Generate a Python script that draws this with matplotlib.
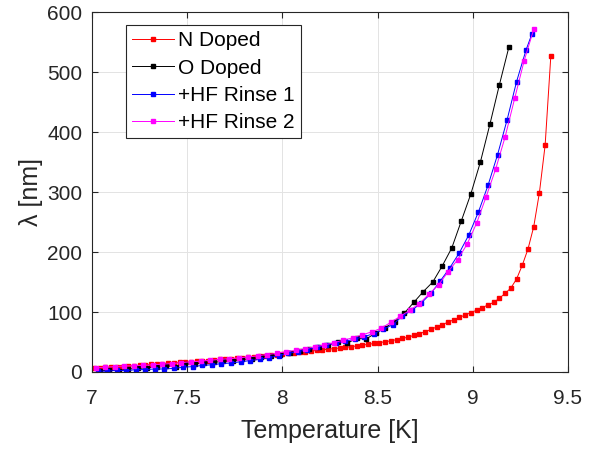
import matplotlib
matplotlib.use("Agg")
import matplotlib.pyplot as plt

plt.rcParams['font.family'] = ['Liberation Sans', 'DejaVu Sans']

# N Doped
t_n = [7.01, 7.04, 7.07, 7.10, 7.13, 7.16, 7.19, 7.22, 7.25, 7.28, 7.31, 7.34, 7.37, 7.40,
       7.43, 7.46, 7.49, 7.52, 7.55, 7.58, 7.61, 7.64, 7.67, 7.70, 7.73, 7.76, 7.79, 7.82,
       7.85, 7.88, 7.91, 7.94, 7.97, 8.00, 8.03, 8.06, 8.09, 8.12, 8.15, 8.18, 8.21, 8.24,
       8.27, 8.30, 8.33, 8.36, 8.39, 8.42, 8.45, 8.48, 8.51, 8.54, 8.57, 8.60, 8.63, 8.66,
       8.69, 8.72, 8.75, 8.78, 8.81, 8.84, 8.87, 8.90, 8.93, 8.96, 8.99, 9.02, 9.05, 9.08,
       9.11, 9.14, 9.17, 9.20, 9.23, 9.26, 9.29, 9.32, 9.35, 9.38, 9.41]
lam_n = [6, 7, 7.5, 8, 8.5, 9, 10, 10.5, 11, 12, 12.5, 13, 14, 14.5,
         15, 16, 16.5, 17, 18, 18.5, 19, 20, 21, 21.5, 22, 23, 24, 25,
         25.5, 26, 27, 28, 29, 30, 31, 32, 33, 34, 35, 36, 37, 38,
         39, 40, 41, 42, 43.5, 45, 46, 47.5, 49, 50.5, 52, 54, 56, 58,
         61, 64, 67, 71, 75, 79, 83, 87, 91, 95, 99, 103, 107, 112,
         116, 123, 131, 140, 155, 178, 205, 242, 299, 378, 527]

# O Doped
t_o = [7.04, 7.09, 7.14, 7.19, 7.24, 7.29, 7.34, 7.39, 7.44, 7.49, 7.54, 7.59, 7.64, 7.69,
       7.74, 7.79, 7.84, 7.89, 7.94, 7.99, 8.04, 8.09, 8.14, 8.19, 8.24, 8.29, 8.34, 8.39,
       8.44, 8.49, 8.54, 8.59, 8.64, 8.69, 8.74, 8.79, 8.84, 8.89, 8.94, 8.99, 9.04, 9.09,
       9.14, 9.19]
lam_o = [2, 3, 2, 5, 6, 7, 8, 10, 9, 13, 14, 15, 16, 18,
         19, 21, 22, 25, 27, 29, 32, 35, 38, 41, 45, 50, 48, 56,
         55, 65, 74, 84, 98, 116, 134, 150, 177, 207, 252, 297, 350, 413,
         479, 542]

# +HF Rinse 1
t_h1 = [7.03, 7.08, 7.13, 7.18, 7.23, 7.28, 7.33, 7.38, 7.43, 7.48, 7.53, 7.58, 7.63, 7.68,
        7.73, 7.78, 7.83, 7.88, 7.93, 7.98, 8.03, 8.08, 8.13, 8.18, 8.23, 8.28, 8.33, 8.38,
        8.43, 8.48, 8.53, 8.58, 8.63, 8.68, 8.73, 8.78, 8.83, 8.88, 8.93, 8.98, 9.03, 9.08,
        9.13, 9.18, 9.23, 9.28, 9.31]
lam_h1 = [2, 1, 3, 2, 4, 4, 5, 5, 6, 8, 9, 11, 12, 14,
          15, 17, 19, 21, 24, 27, 31, 34, 37, 41, 45, 48, 51, 55,
          59, 64, 71, 79, 93, 103, 115, 131, 152, 174, 199, 229, 267, 311,
          362, 420, 484, 537, 563]

# +HF Rinse 2
t_h2 = [7.02, 7.07, 7.12, 7.17, 7.22, 7.27, 7.32, 7.37, 7.42, 7.47, 7.52, 7.57, 7.62, 7.67,
        7.72, 7.77, 7.82, 7.87, 7.92, 7.97, 8.02, 8.07, 8.12, 8.17, 8.22, 8.27, 8.32, 8.37,
        8.42, 8.47, 8.52, 8.57, 8.62, 8.67, 8.72, 8.77, 8.82, 8.87, 8.92, 8.97, 9.02, 9.07,
        9.12, 9.17, 9.22, 9.27, 9.32]
lam_h2 = [7, 8, 9, 10, 10.5, 11, 12, 13, 14, 15.5, 17, 18, 19.5, 21,
          22, 23.5, 25, 27, 29, 31, 34, 36, 39, 42, 45, 49, 53, 57,
          62, 67, 73, 83, 93, 103, 114, 130, 145, 167, 187, 213, 248, 292,
          338, 392, 456, 519, 571]

fig = plt.figure(figsize=(5.99, 4.49), dpi=100)
ax = fig.add_axes([0.1536, 0.1715, 0.7946, 0.8017])

ax.plot(t_n, lam_n, '-s', color='#ff0000', lw=0.7, ms=2.4, label='N Doped')
ax.plot(t_o, lam_o, '-s', color='#000000', lw=0.7, ms=2.4, label='O Doped')
ax.plot(t_h1, lam_h1, '-s', color='#0000ff', lw=0.7, ms=2.4, label='+HF Rinse 1')
ax.plot(t_h2, lam_h2, '-s', color='#ff00ff', lw=0.7, ms=2.4, label='+HF Rinse 2')

ax.set_xlim(7, 9.5)
ax.set_ylim(0, 600)
ax.set_xticks([7, 7.5, 8, 8.5, 9, 9.5])
ax.set_xticklabels(['7', '7.5', '8', '8.5', '9', '9.5'])
ax.set_yticks([0, 100, 200, 300, 400, 500, 600])
ax.grid(True, color='#e3e3e3', lw=0.7)
ax.set_axisbelow(True)
for s in ax.spines.values():
    s.set_color('#262626')
    s.set_linewidth(0.8)
ax.tick_params(direction='in', top=True, right=True, length=4, width=0.8,
               labelsize=15, colors='#262626')
ax.tick_params(axis='x', pad=12)
ax.tick_params(axis='y', pad=7)
ax.set_xlabel('Temperature [K]', fontsize=18, color='#262626', labelpad=8)
ax.set_ylabel('λ [nm]', fontsize=18, color='#262626', labelpad=3)

leg = ax.legend(loc='upper left', bbox_to_anchor=(0.0714, 0.964), fontsize=15,
                fancybox=False, framealpha=1, edgecolor='#262626',
                handlelength=2.0, handletextpad=0.2, borderpad=0.3,
                labelspacing=0.4, borderaxespad=0)
leg.get_frame().set_linewidth(0.8)

fig.savefig('out.png', dpi=100)
